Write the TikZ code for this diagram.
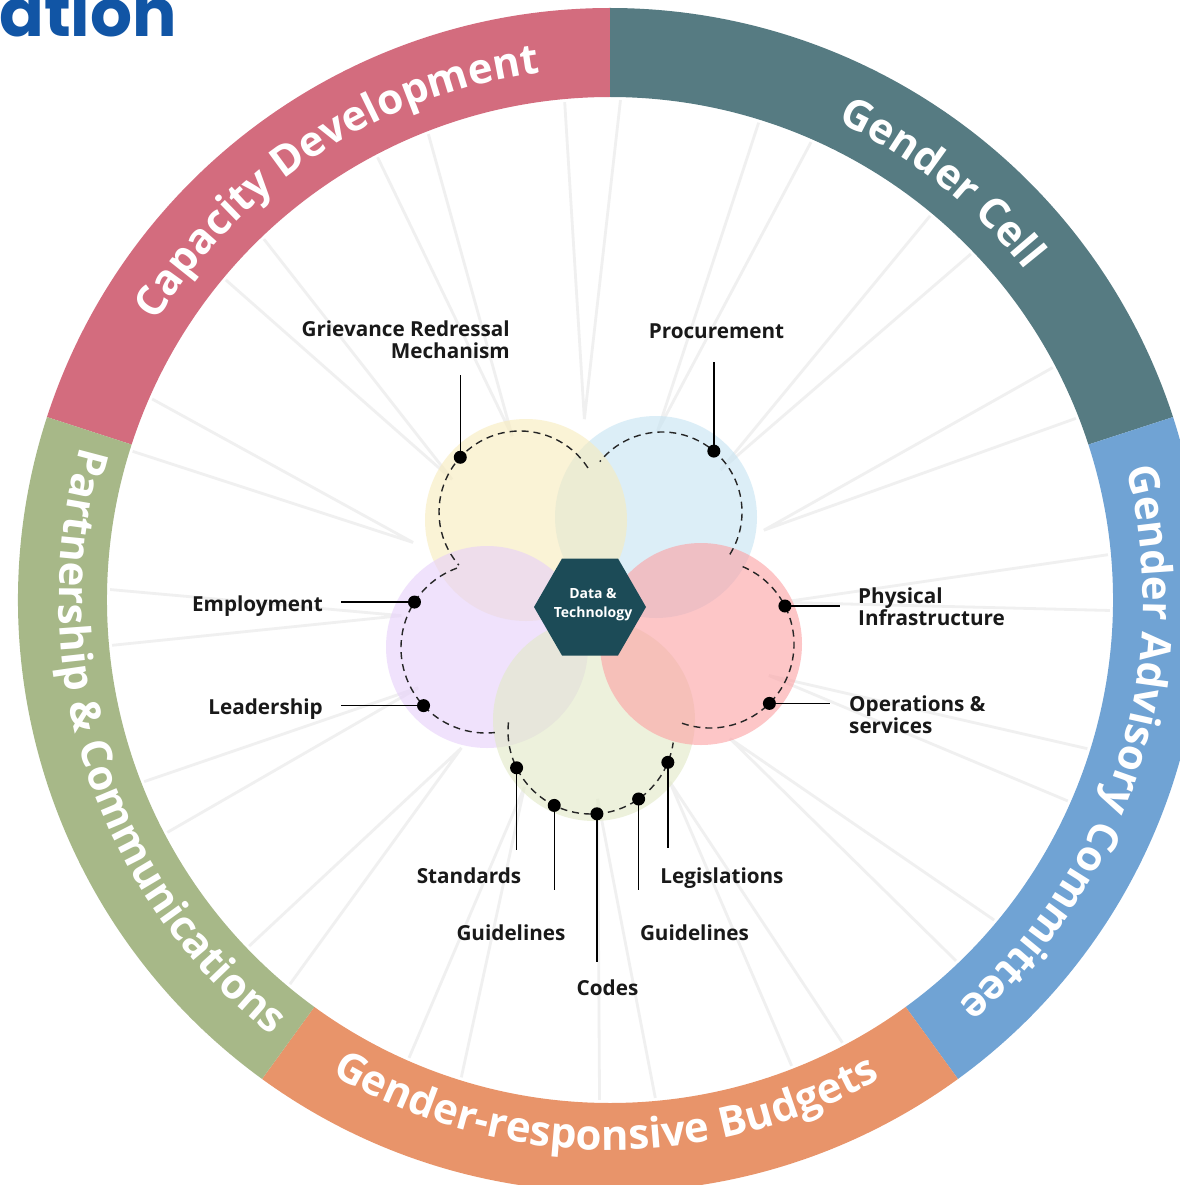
\documentclass[tikz,border=0pt]{standalone}
\usepackage{fontspec}
\setmainfont{Open Sans}
\newfontfamily\titlefont{Poppins}
\usetikzlibrary{decorations.text,shapes.geometric,calc}
\definecolor{capcol}{RGB}{211,108,126}
\definecolor{cellcol}{RGB}{86,123,130}
\definecolor{advcol}{RGB}{112,163,212}
\definecolor{budcol}{RGB}{232,148,106}
\definecolor{partcol}{RGB}{167,184,136}
\definecolor{titleblue}{RGB}{17,85,165}
\definecolor{hexcol}{RGB}{28,75,87}
\definecolor{pyel}{RGB}{248,235,187}
\definecolor{pblu}{RGB}{197,228,243}
\definecolor{ppur}{RGB}{230,207,250}
\definecolor{pred}{RGB}{252,160,163}
\definecolor{pgrn}{RGB}{225,233,197}
\definecolor{spokecol}{RGB}{240,240,240}
\newcommand\ringseg[3]{%
  \fill[#3,shift={(610,-600)}] (#1:592) arc[start angle=#1,end angle=#2,radius=592] -- (#2:503) arc[start angle=#2,end angle=#1,radius=503] -- cycle;}
\newcommand\ringbold{\bfseries\fontsize{42}{42}\selectfont}
\newcommand\ringtext[5]{%
  \path[shift={(610,-600)},decorate,decoration={text along path,text align=center,text color=white,text={|#4|#5}}] (#1:#3) arc[start angle=#1,end angle=#2,radius=#3];}
\begin{document}
\begin{tikzpicture}[x=1pt,y=1pt,
  spoke/.style={draw=spokecol,line width=2.8},
  petal/.style={fill opacity=.6},
  dasharc/.style={draw=black!85,line width=1.4,dash pattern=on 7pt off 5pt},
  dot/.style={circle,fill=black,minimum size=13,inner sep=0},
  conn/.style={draw=black,line width=1.3},
  lab/.style={font=\bfseries\fontsize{20.7}{21.5}\selectfont,inner sep=0,text=black!90}]
\useasboundingbox (0,0) rectangle (1179,-1185);
\fill[white] (0,0) rectangle (1179,-1185);
% title fragment
\node[font=\titlefont\bfseries\fontsize{66}{66}\selectfont,text=titleblue,anchor=base west,inner sep=0] (title) at (-1,-37) {ation};
% faint spokes
\foreach \c in {2,24.5,...,339.5}{
  \draw[spoke] ($(610,-600)+(\c+3.2:500)$) -- ($(591,-609)+(\c:190)$) -- ($(610,-600)+(\c-3.2:500)$);
}
% ring
\ringseg{90}{162}{capcol}
\ringseg{18}{90}{cellcol}
\ringseg{-54}{18}{advcol}
\ringseg{-126}{-54}{budcol}
\ringseg{162}{234}{partcol}
\ringtext{183}{63}{532}{\ringbold}{Capacity Development}
\ringtext{111.5}{-8.5}{530}{\ringbold}{Gender Cell}
\ringtext{42.5}{-77.5}{533}{\ringbold}{Gender Advisory Committee}
\ringtext{-150.5}{-30.5}{550}{\ringbold}{Gender-responsive Budgets}
\ringtext{138}{258}{551}{\ringbold}{Partnership {\&} Communications}
% petals
\fill[pblu,petal] (656,-517) circle[radius=101];
\fill[pyel,petal] (526,-520) circle[radius=101];
\fill[ppur,petal] (487,-647) circle[radius=101];
\fill[pgrn,petal] (594,-720) circle[radius=101];
\fill[pred,petal] (701,-644) circle[radius=101];
% dashed arcs
\draw[dasharc] ($(520,-512)+(33:81)$) arc[start angle=33,end angle=221,radius=81];
\draw[dasharc] ($(662,-512)+(-32:80)$) arc[start angle=-32,end angle=141,radius=80];
\draw[dasharc] ($(710,-644)+(-109.5:84)$) arc[start angle=-109.5,end angle=70.5,radius=84];
\draw[dasharc] ($(591,-731)+(174:83)$) arc[start angle=174,end angle=352,radius=83];
\draw[dasharc] ($(486,-648)+(110:85)$) arc[start angle=110,end angle=276,radius=85];
% centre hexagon
\node[regular polygon,regular polygon sides=6,minimum size=112,inner sep=0,fill=hexcol] (hex) at (590,-607) {};
\node[text=white,font=\bfseries\fontsize{14}{19}\selectfont,align=center,inner sep=0] (hext) at (593,-605) {Data \&\\Technology};
% dots
\node[dot] (gr) at ($(520,-512)+(137.5:81)$) {};
\node[dot] (pr) at ($(662,-512)+(49.6:80)$) {};
\node[dot] (em) at ($(486,-648)+(147.3:85)$) {};
\node[dot] (le) at ($(486,-648)+(222.7:85)$) {};
\node[dot] (pi) at ($(710,-644)+(26.9:84)$) {};
\node[dot] (op) at ($(710,-644)+(-45:84)$) {};
\node[dot] (st) at ($(591,-731)+(206.3:83)$) {};
\node[dot] (g1) at ($(591,-731)+(243.7:83)$) {};
\node[dot] (co) at ($(591,-731)+(274.1:83)$) {};
\node[dot] (g2) at ($(591,-731)+(305:83)$) {};
\node[dot] (lg) at ($(591,-731)+(337.8:83)$) {};
% connector ends
\coordinate (gr-e) at (gr |- 0,-375);
\coordinate (pr-e) at (pr |- 0,-362);
\coordinate (em-e) at (em -| 341,0);
\coordinate (le-e) at (le -| 341,0);
\coordinate (pi-e) at (pi -| 840,0);
\coordinate (op-e) at (op -| 830,0);
\coordinate (st-e) at (st |- 0,-850);
\coordinate (g1-e) at (g1 |- 0,-890);
\coordinate (co-e) at (co |- 0,-962);
\coordinate (g2-e) at (g2 |- 0,-890);
\coordinate (lg-e) at (lg |- 0,-848);
\foreach \n in {gr,pr,em,le,pi,op,st,g1,co,g2,lg}{\draw[conn] (\n.center) -- (\n-e);}
% labels
\node[lab,align=right,anchor=north east] (grL) at (510,-321) {Grievance Redressal\\Mechanism};
\node[lab,anchor=base] (prL) at (716.5,-338) {Procurement};
\node[lab,anchor=base east] (emL) at (323,-611) {Employment};
\node[lab,anchor=base east] (leL) at (323,-714) {Leadership};
\node[lab,align=left,anchor=north west] (piL) at (858,-588) {Physical\\Infrastructure};
\node[lab,align=left,anchor=north west] (opL) at (849,-696) {Operations \&\\services};
\node[lab,anchor=base] (stL) at (469,-883) {Standards};
\node[lab,anchor=base] (g1L) at (511,-940) {Guidelines};
\node[lab,anchor=base] (coL) at (607.5,-995) {Codes};
\node[lab,anchor=base] (g2L) at (694.5,-940) {Guidelines};
\node[lab,anchor=base] (lgL) at (722,-883) {Legislations};
\end{tikzpicture}
\end{document}
